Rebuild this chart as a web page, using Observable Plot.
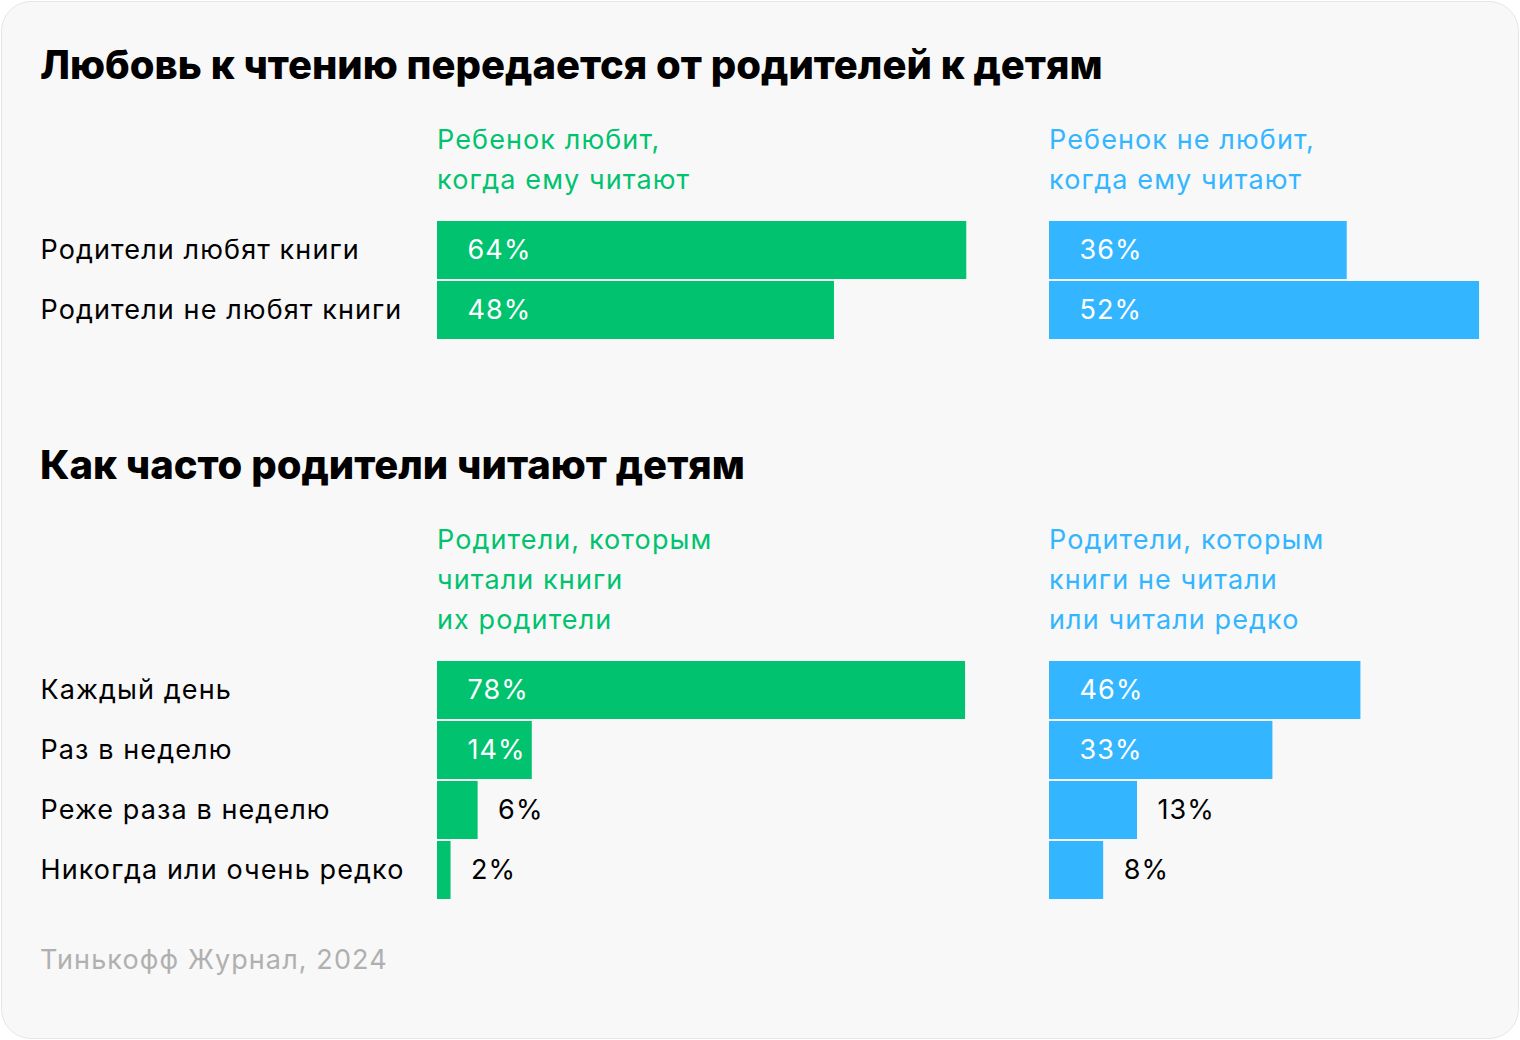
<!DOCTYPE html>
<html>
<head>
<meta charset="utf-8">
<script src="https://cdn.jsdelivr.net/npm/d3@7"></script>
<script src="https://cdn.jsdelivr.net/npm/@observablehq/plot@0.6"></script>
<style>
  html, body { margin: 0; padding: 0; background: #ffffff; }
  #card { position: relative; width: 1520px; height: 1040px; overflow: hidden; font-family: Inter, "Noto Sans", sans-serif; }
  #frame { position: absolute; left: 1px; top: 1px; right: 1px; bottom: 1px; background: #f8f8f8; border: 1px solid #e6e6e6; border-radius: 30px; }
  .t { position: absolute; white-space: nowrap; }
  .title { font-weight: 800; font-size: 40px; line-height: 50px; color: #000; }
  .head { font-size: 27px; line-height: 40px; letter-spacing: 1.1px; }
  .src { font-size: 27px; line-height: 40px; color: #b0b0b0; letter-spacing: 1.1px; }
  .plot { position: absolute; }
</style>
</head>
<body>
<div id="card">
  <div id="frame"></div>
</div>
<script>
// ---- data ----
const title1 = "Любовь к чтению передается от родителей к детям";
const title2 = "Как часто родители читают детям";
const source = "Тинькофф Журнал, 2024";

const rows1 = ["Родители любят книги", "Родители не любят книги"];
const childLikes = [64, 48];
const childDislikes = [36, 52];
const head1Green = ["Ребенок любит,", "когда ему читают"];
const head1Blue = ["Ребенок не любит,", "когда ему читают"];

const rows2 = ["Каждый день", "Раз в неделю", "Реже раза в неделю", "Никогда или очень редко"];
const parentsWereRead = [78, 14, 6, 2];
const parentsNotRead = [46, 33, 13, 8];
const head2Green = ["Родители, которым", "читали книги", "их родители"];
const head2Blue = ["Родители, которым", "книги не читали", "или читали редко"];

const GREEN = "#00c26f";
const BLUE = "#33b6ff";

const card = document.getElementById("card");

function addText(cls, text, left, centerY, color, lh) {
  const d = document.createElement("div");
  d.className = "t " + cls;
  d.textContent = text;
  d.style.left = left + "px";
  d.style.top = (centerY - lh / 2) + "px";
  if (color) d.style.color = color;
  card.appendChild(d);
}

addText("title", title1, 40, 65, null, 50);
addText("title", title2, 40, 465, null, 50);
head1Green.forEach((s, i) => addText("head", s, 437, 140 + i * 40, GREEN, 40));
head1Blue.forEach((s, i) => addText("head", s, 1049, 140 + i * 40, BLUE, 40));
head2Green.forEach((s, i) => addText("head", s, 437, 540 + i * 40, GREEN, 40));
head2Blue.forEach((s, i) => addText("head", s, 1049, 540 + i * 40, BLUE, 40));
addText("src", source, 40, 960, null, 40);

function panel({rows, values, color, left, top, width, marginLeft, pxPerPct, showRows}) {
  const data = rows.map((cat, i) => ({cat, v: values[i], inside: values[i] * pxPerPct >= 90}));
  const marks = [
    Plot.barX(data, {x: "v", y: "cat", fill: color, insetTop: 1, insetBottom: 1}),
    Plot.text(data.filter(d => d.inside), {x: 0, y: "cat", text: d => d.v + "%", textAnchor: "start", dx: 30, fill: "#fff"}),
    Plot.text(data.filter(d => !d.inside), {x: "v", y: "cat", text: d => d.v + "%", textAnchor: "start", dx: 20, fill: "#000"})
  ];
  if (showRows) {
    marks.push(Plot.text(data, {y: "cat", text: "cat", frameAnchor: "left", textAnchor: "start", dx: 40 - marginLeft, fill: "#000"}));
  }
  const p = Plot.plot({
    width, height: rows.length * 60,
    marginLeft, marginRight: 0, marginTop: 0, marginBottom: 0,
    x: {domain: [0, (width - marginLeft) / pxPerPct], axis: null},
    y: {domain: rows, axis: null, padding: 0},
    style: {background: "transparent", fontFamily: "Inter, 'Noto Sans', sans-serif", fontSize: "27px", letterSpacing: "1.1px", overflow: "visible"},
    marks
  });
  p.classList.add("plot");
  p.style.left = left + "px";
  p.style.top = top + "px";
  card.appendChild(p);
}

panel({rows: rows1, values: childLikes, color: GREEN, left: 0, top: 220, width: 997, marginLeft: 437, pxPerPct: 8.27, showRows: true});
panel({rows: rows1, values: childDislikes, color: BLUE, left: 1049, top: 220, width: 470, marginLeft: 0, pxPerPct: 8.27, showRows: false});
panel({rows: rows2, values: parentsWereRead, color: GREEN, left: 0, top: 660, width: 997, marginLeft: 437, pxPerPct: 6.77, showRows: true});
panel({rows: rows2, values: parentsNotRead, color: BLUE, left: 1049, top: 660, width: 470, marginLeft: 0, pxPerPct: 6.77, showRows: false});
</script>
</body>
</html>
